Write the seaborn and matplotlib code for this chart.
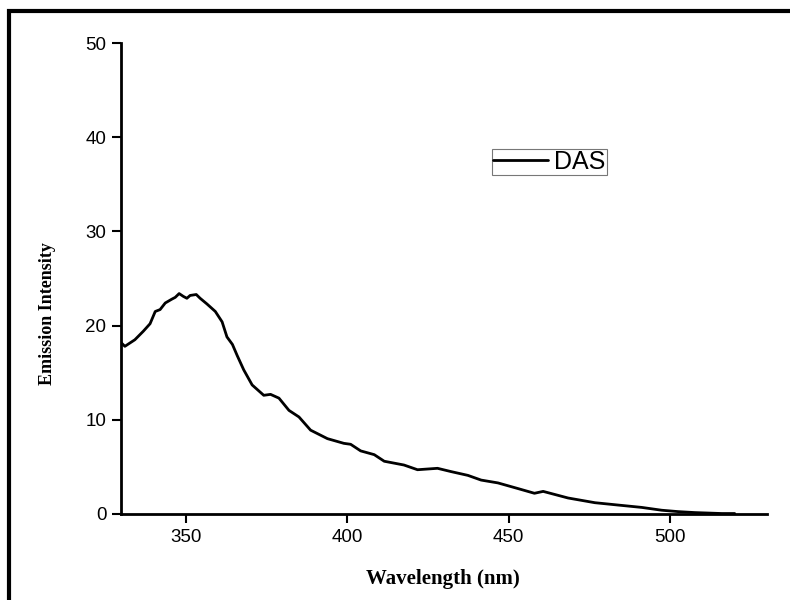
import matplotlib

matplotlib.use("Agg")
import matplotlib.pyplot as plt
import pandas as pd
import seaborn as sns
from matplotlib.patches import Rectangle

# values
wavelength = [330, 331.2, 334.3, 336.9, 339, 340.6, 342.1, 343.7, 345.7, 346.8,
              348, 349.3, 350.4, 351.4, 353.3, 354.5, 356.6, 359.2, 361.3, 362.8,
              364.5, 366, 368, 370.6, 374.2, 376.3, 378.9, 382, 385.1, 388.7,
              393.9, 399, 401.1, 404.2, 408.4, 411.5, 417.6, 421.8, 428, 432.2,
              437.4, 441.5, 446.7, 452.9, 458, 460.7, 468.4, 476.7, 483.9, 491.2,
              497.4, 502.6, 507.7, 511.9, 516, 520]
intensity = [18.2, 17.8, 18.5, 19.4, 20.2, 21.5, 21.7, 22.4, 22.8, 23.0,
             23.4, 23.1, 22.9, 23.2, 23.3, 22.9, 22.3, 21.5, 20.4, 18.8,
             18.0, 16.8, 15.3, 13.7, 12.6, 12.7, 12.3, 11.0, 10.3, 8.9,
             8.0, 7.5, 7.4, 6.7, 6.3, 5.6, 5.2, 4.7, 4.85, 4.5,
             4.1, 3.6, 3.3, 2.7, 2.2, 2.4, 1.7, 1.2, 0.95, 0.7,
             0.4, 0.25, 0.15, 0.1, 0.05, 0.05]
series_name = "DAS"

x_ticks = [350, 400, 450, 500]
y_ticks = [0, 10, 20, 30, 40, 50]

df = pd.DataFrame({"Wavelength": wavelength, "Intensity": intensity})
df["Sample"] = series_name

sns.set_style("ticks")
plt.rcParams["font.family"] = ["Liberation Sans", "DejaVu Sans"]
for key in ["text.color", "axes.labelcolor", "xtick.color", "ytick.color"]:
    plt.rcParams[key] = "black"

fig = plt.figure(figsize=(7.9, 6), dpi=100)
ax = fig.add_axes([121 / 790, 1 - 514 / 600, 646 / 790, 471 / 600])

sns.lineplot(data=df, x="Wavelength", y="Intensity", hue="Sample",
             palette=["black"], linewidth=2.0, ax=ax)

ax.set_xlim(330, 530)
ax.set_ylim(0, 50)
ax.set_xticks(x_ticks)
ax.set_yticks(y_ticks)
sns.despine(ax=ax)
for side in ["left", "bottom"]:
    ax.spines[side].set_linewidth(2)
    ax.spines[side].set_color("black")
ax.tick_params(direction="out", length=6.5, width=1.5, pad=4,
               labelsize=13.5, colors="black")

serif = ["Liberation Serif", "DejaVu Serif"]
ax.set_xlabel("Wavelength (nm)", family=serif, weight="bold", size=15)
ax.set_ylabel("Emission Intensity", family=serif, weight="bold", size=13)
ax.xaxis.set_label_coords(0.498, -0.117)
ax.yaxis.set_label_coords(-0.101, 0.425)

leg = ax.legend(loc="upper left", bbox_to_anchor=(0.574, 0.775), fontsize=18,
                frameon=True, fancybox=False, handlelength=2.2,
                borderpad=0.05, handletextpad=0.25, borderaxespad=0)
leg.get_frame().set_edgecolor("#555555")
leg.get_frame().set_linewidth(0.8)
for line in leg.get_lines():
    line.set_linewidth(2)

# thick frame around the figure (right and bottom edges fall outside the picture)
fig.patches.append(Rectangle((9 / 790, -0.1), 1.2, 1 - 11 / 600 + 0.1,
                             transform=fig.transFigure, fill=False,
                             edgecolor="black", linewidth=3))

fig.savefig("out.png", dpi=100)
